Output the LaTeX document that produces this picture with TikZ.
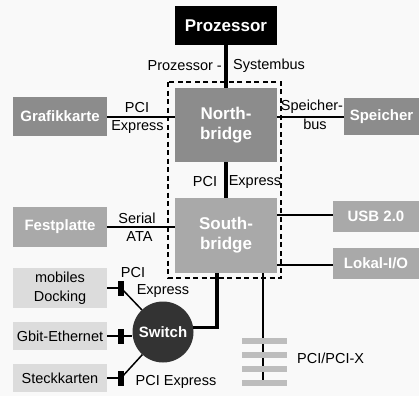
\documentclass[tikz,border=0pt]{standalone}
\usepackage{fontspec}
\setmainfont{Liberation Sans}
\definecolor{darkbox}{HTML}{8C8C8C}
\definecolor{midbox}{HTML}{A9A9A9}
\definecolor{palebox}{HTML}{DCDCDC}
\definecolor{slotgray}{HTML}{BDBDBD}
\definecolor{switchgray}{HTML}{333333}
\definecolor{bggray}{HTML}{F9F9F9}
\begin{document}
\begin{tikzpicture}[x=1pt,y=-1pt,
  box/.style={inner sep=0pt, align=center, text=white, font=\fontsize{15}{18}\selectfont\bfseries},
  chip/.style={box, minimum width=102pt, minimum height=74pt, font=\fontsize{17}{20}\selectfont\bfseries},
  dev/.style={box, minimum width=94pt, minimum height=39pt},
  ext/.style={inner sep=0pt, align=center, fill=palebox, minimum width=94pt, font=\fontsize{14.5}{19}\selectfont},
  plug/.style={fill=black, inner sep=0pt, minimum width=6pt, minimum height=15pt},
  slot/.style={fill=slotgray, inner sep=0pt, minimum width=45pt, minimum height=6pt},
  lbl/.style={inner sep=0pt, font=\fontsize{14.5}{16}\selectfont},
  wire/.style={line width=1.5pt},
  bus/.style={line width=3.5pt}]
\fill[bggray] (0,0) rectangle (419,396);
\useasboundingbox (0,0) rectangle (419,396);
\draw[line width=2pt, dash pattern=on 5pt off 3.5pt] (168,82) rectangle (281,278);
% boxes
\node[box, fill=black, minimum width=102pt, minimum height=39pt, font=\fontsize{17}{20}\selectfont\bfseries] (Proz) at (226,25.5) {Prozessor};
\node[chip, fill=darkbox] (NB) at (226,125) {North-\\bridge};
\node[chip, fill=midbox, minimum height=75pt] (SB) at (226,235.5) {South-\\bridge};
\node[dev, fill=darkbox] (Grafik) at (60,116) {Grafikkarte};
\node[dev, fill=darkbox, minimum width=75pt, minimum height=37pt] (Speicher) at (381.5,116.5) {Speicher};
\node[dev, fill=midbox, minimum height=40pt] (Platte) at (60,227) {Festplatte};
\node[dev, fill=midbox, minimum width=86pt, minimum height=31pt] (USB) at (376,216.5) {USB 2.0};
\node[dev, fill=midbox, minimum width=86pt, minimum height=31pt] (Lokal) at (376,263.5) {Lokal-I/O};
\node[ext, minimum height=40pt] (Dock) at (60,288) {mobiles\\Docking};
\node[ext, minimum height=28pt] (Gbit) at (60,336) {Gbit-Ethernet};
\node[ext, minimum height=28pt] (Steck) at (60,378) {Steckkarten};
\node[circle, fill=switchgray, minimum size=61pt, inner sep=0pt, text=white, font=\fontsize{15}{18}\selectfont\bfseries] (Sw) at (163,332) {Switch};
\node[plug] (P1) at (121,288) {};
\node[plug] (P2) at (121,336) {};
\node[plug] (P3) at (121,378) {};
% buses
\draw[bus] (Proz) -- (NB);
\draw[bus] (NB) -- (SB);
\draw[wire] (Grafik.east |- 0,117) -- (NB.west |- 0,117);
\draw[wire] (Speicher.west |- 0,117) -- (NB.east |- 0,117);
\draw[wire] (Platte) -- (SB.west |- Platte);
\draw[wire] (USB.west |- 0,215) -- (SB.east |- 0,215);
\draw[wire] (Lokal.west |- 0,265) -- (SB.east |- 0,265);
\draw[wire] (Dock) -- (P1);
\draw[wire] (P1.center) -- (Sw);
\draw[wire] (Gbit) -- (P2);
\draw[wire] (P2) -- (Sw.west |- P2);
\draw[wire] (Steck) -- (P3);
\draw[wire] (P3.center) -- (Sw);
\coordinate (SBin) at (217,273);
\draw[bus] (Sw.8) -| (SBin);
\coordinate (PCIend) at (263,380);
\draw[wire] (SB.south -| PCIend) -- (PCIend);
\foreach \y/\n in {341/1,355/2,369/3,383/4}
  \node[slot] (Slot\n) at (264.5,\y) {};
% labels
\node[lbl, anchor=east] (PB1) at (222,66) {Prozessor -};
\node[lbl, anchor=west] (PB2) at (233,66) {Systembus};
\node[lbl] (GA1) at (137,108) {PCI};
\node[lbl] (GA2) at (137.5,127) {Express};
\node[lbl] (SP1) at (312,107) {Speicher-};
\node[lbl] (SP2) at (315,124) {bus};
\node[lbl] (NS1) at (205,182) {PCI};
\node[lbl] (NS2) at (255,182) {Express};
\node[lbl] (SA1) at (137,218) {Serial};
\node[lbl] (SA2) at (139.5,237) {ATA};
\node[lbl] (DK1) at (133,273) {PCI};
\node[lbl] (DK2) at (163,291) {Express};
\node[lbl] (SK) at (176,382) {PCI Express};
\node[lbl, anchor=west] (PCIlbl) at (297,358) {PCI/PCI-X};
\end{tikzpicture}
\end{document}
